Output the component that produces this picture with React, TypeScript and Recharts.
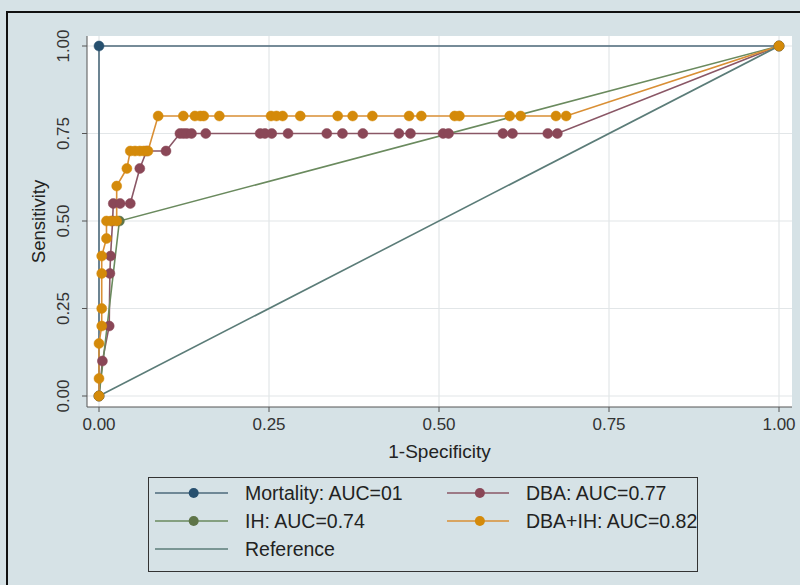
import React from "react";
import { LineChart, Line, XAxis, YAxis, CartesianGrid } from "recharts";

// ROC points (1-specificity, sensitivity)
const mortalityFpr = [0, 0, 1];
const mortalitySens = [0, 1, 1];

const ihFpr = [0, 0.03, 1];
const ihSens = [0, 0.5, 1];

const dbaFpr = [
  0, 0.005, 0.015, 0.016, 0.017, 0.02, 0.021, 0.031, 0.046, 0.06, 0.07, 0.0985,
  0.119, 0.124, 0.129, 0.136, 0.157, 0.237, 0.244, 0.254, 0.278, 0.335, 0.358,
  0.388, 0.441, 0.458, 0.506, 0.514, 0.594, 0.608, 0.66, 0.674, 1,
];
const dbaSens = [
  0, 0.1, 0.2, 0.35, 0.4, 0.5, 0.55, 0.55, 0.55, 0.65, 0.7, 0.7,
  0.75, 0.75, 0.75, 0.75, 0.75, 0.75, 0.75, 0.75, 0.75, 0.75, 0.75,
  0.75, 0.75, 0.75, 0.75, 0.75, 0.75, 0.75, 0.75, 0.75, 1,
];

const comboFpr = [
  0, 0, 0, 0.004, 0.004, 0.004, 0.004, 0.011, 0.011, 0.018, 0.026, 0.026,
  0.041, 0.046, 0.053, 0.06, 0.066, 0.072, 0.087, 0.124, 0.141, 0.149, 0.154,
  0.177, 0.253, 0.261, 0.27, 0.296, 0.351, 0.373, 0.402, 0.456, 0.474, 0.523,
  0.53, 0.604, 0.62, 0.672, 0.687, 1,
];
const comboSens = [
  0, 0.05, 0.15, 0.2, 0.25, 0.35, 0.4, 0.45, 0.5, 0.5, 0.5, 0.6,
  0.65, 0.7, 0.7, 0.7, 0.7, 0.7, 0.8, 0.8, 0.8, 0.8, 0.8,
  0.8, 0.8, 0.8, 0.8, 0.8, 0.8, 0.8, 0.8, 0.8, 0.8, 0.8,
  0.8, 0.8, 0.8, 0.8, 0.8, 1,
];

const refFpr = [0, 1];
const refSens = [0, 1];

const tickValues = [0, 0.25, 0.5, 0.75, 1];

const legendNames = [
  "Mortality: AUC=01",
  "DBA: AUC=0.77",
  "IH: AUC=0.74",
  "DBA+IH: AUC=0.82",
  "Reference",
];

const toPoints = (xs: number[], ys: number[]) =>
  xs.map((x, i) => ({ x, y: ys[i] }));

const BG = "#d6e2e6";
const FONT = "'Liberation Sans', Arial, sans-serif";

const colors = {
  mortLine: "#4d6a7b",
  mortDot: "#27506f",
  dbaLine: "#8a5766",
  dbaDot: "#8a4757",
  ihLine: "#6a8a5e",
  ihDot: "#5e7448",
  comboLine: "#d98f35",
  comboDot: "#d48a0a",
  ref: "#5b7c78",
};

const YTick = (props: any) => {
  const { x, y, payload } = props;
  const bx = x - 11;
  return (
    <text
      x={bx}
      y={y}
      transform={`rotate(-90, ${bx}, ${y})`}
      textAnchor="middle"
      fontFamily={FONT}
      fontSize={17}
      fill="#333"
    >
      {payload.value.toFixed(2)}
    </text>
  );
};

const XTick = (props: any) => {
  const { x, y, payload } = props;
  return (
    <text
      x={x}
      y={y + 16}
      textAnchor="middle"
      fontFamily={FONT}
      fontSize={17}
      fill="#333"
    >
      {payload.value.toFixed(2)}
    </text>
  );
};

const LegendRow = ({
  left,
  top,
  line,
  dot,
  label,
  lineW,
}: {
  left: number;
  top: number;
  line: string;
  dot?: string;
  label: string;
  lineW: number;
}) => (
  <div style={{ position: "absolute", left, top, height: 22 }}>
    <svg width={lineW} height={22} style={{ position: "absolute", left: 0, top: 0 }}>
      <line x1={0} y1={11} x2={lineW} y2={11} stroke={line} strokeWidth={1.6} />
      {dot && <circle cx={lineW * 0.53} cy={11} r={5} fill={dot} />}
    </svg>
    <span
      style={{
        position: "absolute",
        left: lineW + 17,
        top: 0,
        whiteSpace: "nowrap",
        fontFamily: FONT,
        fontSize: 19.5,
        lineHeight: "22px",
        color: "#222",
      }}
    >
      {label}
    </span>
  </div>
);

export default function App() {
  const series = [
    { key: "mort", data: toPoints(mortalityFpr, mortalitySens), line: colors.mortLine, dot: colors.mortDot },
    { key: "dba", data: toPoints(dbaFpr, dbaSens), line: colors.dbaLine, dot: colors.dbaDot },
    { key: "ih", data: toPoints(ihFpr, ihSens), line: colors.ihLine, dot: colors.ihDot },
    { key: "combo", data: toPoints(comboFpr, comboSens), line: colors.comboLine, dot: colors.comboDot },
  ];

  return (
    <div
      style={{
        position: "absolute",
        left: 0,
        top: 0,
        width: 800,
        height: 585,
        background: BG,
        overflow: "hidden",
      }}
    >
      <div
        style={{
          position: "absolute",
          left: 6,
          top: 11,
          width: 820,
          height: 620,
          border: "2px solid #111",
        }}
      />
      <div style={{ position: "absolute", left: 0, top: 0 }}>
        <LineChart
          width={800}
          height={585}
          margin={{ top: 36, right: 8, bottom: 138, left: 0 }}
        >
          <CartesianGrid
            fill="#ffffff"
            stroke="#e2e6e8"
            strokeWidth={1.2}
            horizontalValues={tickValues}
            verticalValues={tickValues}
          />
          <XAxis
            type="number"
            dataKey="x"
            domain={[-0.01765, 1.0191]}
            allowDataOverflow
            ticks={tickValues}
            tick={<XTick />}
            tickSize={5}
            stroke="#555"
            height={40}
            label={{
              value: "1-Specificity",
              position: "insideBottom",
              offset: -11,
              fontFamily: FONT,
              fontSize: 19,
              fill: "#222",
            }}
          />
          <YAxis
            type="number"
            dataKey="y"
            domain={[-0.0314, 1.0286]}
            allowDataOverflow
            ticks={tickValues}
            tick={<YTick />}
            tickSize={5}
            stroke="#555"
            width={87}
            label={{
              value: "Sensitivity",
              angle: -90,
              position: "insideLeft",
              offset: 38,
              style: { textAnchor: "middle" },
              fontFamily: FONT,
              fontSize: 18.5,
              fill: "#222",
            }}
          />
          {series.map((s) => (
            <Line
              key={s.key}
              data={s.data}
              dataKey="y"
              type="linear"
              stroke={s.line}
              strokeWidth={1.6}
              dot={{ r: 5, fill: s.dot, stroke: s.dot, strokeWidth: 0.5 }}
              activeDot={false}
              isAnimationActive={false}
            />
          ))}
          <Line
            data={toPoints(refFpr, refSens)}
            dataKey="y"
            type="linear"
            stroke={colors.ref}
            strokeWidth={1.6}
            dot={false}
            activeDot={false}
            isAnimationActive={false}
          />
        </LineChart>
      </div>
      <div
        style={{
          position: "absolute",
          left: 148,
          top: 477,
          width: 548,
          height: 93,
          border: "1.5px solid #333",
          background: BG,
        }}
      >
        <LegendRow left={6} top={4} line={colors.mortLine} dot={colors.mortDot} label={legendNames[0]} lineW={73} />
        <LegendRow left={298} top={4} line={colors.dbaLine} dot={colors.dbaDot} label={legendNames[1]} lineW={62} />
        <LegendRow left={6} top={32} line={colors.ihLine} dot={colors.ihDot} label={legendNames[2]} lineW={73} />
        <LegendRow left={298} top={32} line={colors.comboLine} dot={colors.comboDot} label={legendNames[3]} lineW={62} />
        <LegendRow left={6} top={60} line={colors.ref} label={legendNames[4]} lineW={73} />
      </div>
    </div>
  );
}
